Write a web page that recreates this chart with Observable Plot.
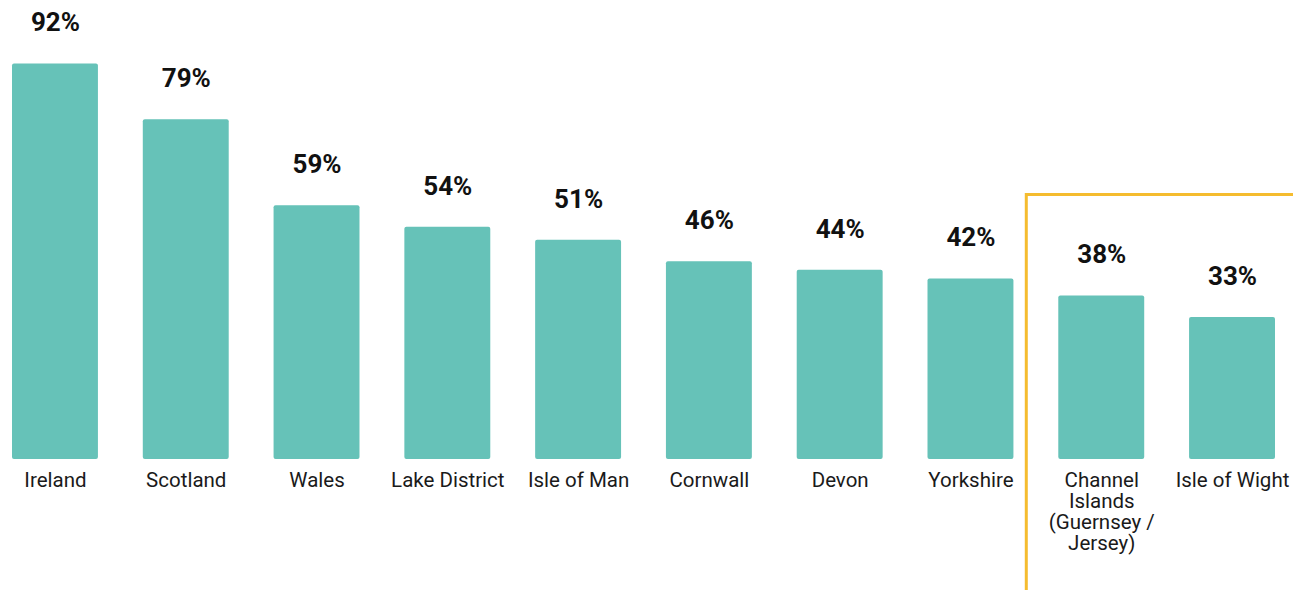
<!DOCTYPE html>
<html>
<head>
<meta charset="utf-8">
<script src="https://cdn.jsdelivr.net/npm/d3@7"></script>
<script src="https://cdn.jsdelivr.net/npm/@observablehq/plot@0.6"></script>
<style>
  html, body { margin: 0; padding: 0; background: #fff; }
  #chart svg { display: block; }
</style>
</head>
<body>
<div id="chart"></div>
<script>
const categories = ["Ireland", "Scotland", "Wales", "Lake District", "Isle of Man", "Cornwall", "Devon", "Yorkshire", "Channel Islands", "Isle of Wight"];
const values = [92, 79, 59, 54, 51, 46, 44, 42, 38, 33];
const tickLabels = ["Ireland", "Scotland", "Wales", "Lake District", "Isle of Man", "Cornwall", "Devon", "Yorkshire", "Channel\nIslands\n(Guernsey /\nJersey)", "Isle of Wight"];
const highlighted = ["Channel Islands", "Isle of Wight"];

const data = categories.map((c, i) => ({category: c, value: values[i]}));
const labelOf = new Map(categories.map((c, i) => [c, tickLabels[i]]));

const chart = Plot.plot({
  width: 1293,
  height: 590,
  marginLeft: 12,
  marginRight: 18,
  marginTop: 29,
  marginBottom: 131,
  style: {fontFamily: "Roboto, 'Noto Sans', sans-serif", background: "#fff"},
  x: {domain: categories, paddingInner: 0.343, paddingOuter: 0, round: false, label: null},
  y: {domain: [0, 100], axis: null},
  marks: [
    Plot.barY(data, {x: "category", y: "value", fill: "#66c2b8", rx: 2}),
    Plot.text(data, {x: "category", y: "value", text: d => d.value + "%", dy: -41, fontSize: 26, fontWeight: 700, fill: "#111"}),
    Plot.axisX({tickSize: 0, tickPadding: 12, fontSize: 20.5, lineHeight: 1.03, tickFormat: d => labelOf.get(d), fill: "#1a1a1a", label: null})
  ]
});

document.getElementById("chart").appendChild(chart);

// Highlight box around the last two categories
const xs = chart.scale("x");
const ys = chart.scale("y");
const svgSel = d3.select(chart);
const boxLeft = xs.apply(highlighted[0]) - 32;
const boxTop = ys.apply(61.5);
svgSel.append("path")
  .attr("d", `M${1293 + 5},${boxTop} H${boxLeft} V${590 + 5}`)
  .attr("fill", "none")
  .attr("stroke", "#f5bc2f")
  .attr("stroke-width", 3);
</script>
</body>
</html>
